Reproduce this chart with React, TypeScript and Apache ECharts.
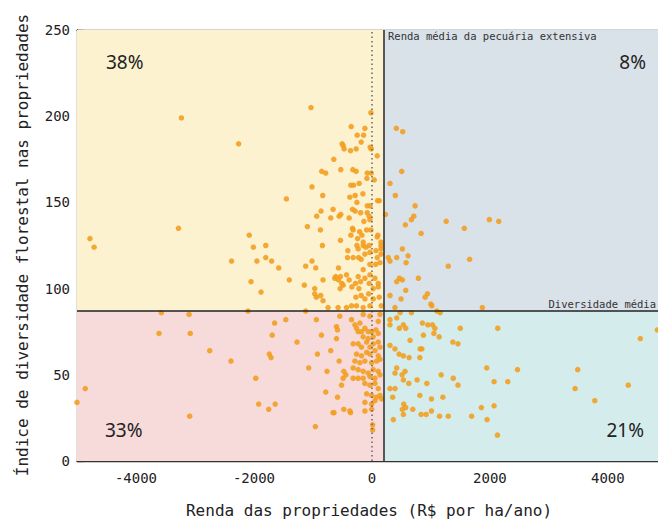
import React, { useEffect, useRef } from "react";
import * as echarts from "echarts";

// ---- data ----
const xTickValues = [-4000, -2000, 0, 2000, 4000];
const avgIncome = 200; // Renda média da pecuária extensiva
const avgDiversity = 87; // Diversidade média
const quadrantShares = ["38%", "8%", "33%", "21%"]; // NW, NE, SW, SE

// far-left sparse points [income, diversity]
const pointsLeft: number[][] = [
  [-3230, 199], [-2260, 184], [-1450, 152], [-3280, 135], [-4780, 129], [-4710, 124],
  [-2080, 131], [-2010, 124], [-1800, 125], [-2380, 116], [-1950, 116], [-1800, 118],
  [-1700, 116], [-1580, 112], [-1400, 105], [-2050, 104], [-1880, 98],
  [-3570, 86], [-3100, 85], [-2100, 87], [-3610, 74], [-3080, 74], [-1650, 80],
  [-1460, 82], [-1690, 73], [-1270, 69], [-2750, 64], [-2390, 58], [-1740, 62],
  [-1710, 60], [-1970, 48], [-4860, 42], [-5000, 34], [-1920, 33], [-1750, 30],
  [-1640, 33], [-3090, 26],
];

// right side, above average diversity
const pointsRightUpper: number[][] = [
  [414, 193], [522, 191], [505, 168], [306, 161], [397, 154], [732, 148], [710, 142],
  [669, 140], [567, 137], [834, 132], [1259, 139], [1566, 135], [1991, 140], [2150, 139],
  [516, 123], [613, 119], [579, 115], [306, 116], [1294, 113], [1656, 117], [788, 106],
  [465, 106], [420, 104], [516, 105], [573, 99], [941, 97], [902, 95], [306, 96], [494, 94],
  [391, 89], [999, 91], [1016, 90], [1872, 89], [278, 118], [420, 118],
];

// right side, below average diversity
const pointsRightLower: number[][] = [
  [477, 86], [669, 86], [1101, 87], [1157, 86], [306, 82], [420, 83],
  [306, 79], [465, 77], [533, 79], [573, 77], [856, 80], [948, 79], [1026, 79], [1067, 77],
  [873, 73], [1050, 74], [1140, 72], [1498, 77], [2133, 77], [647, 70], [1373, 69],
  [1459, 68], [4550, 71], [306, 67], [391, 65], [817, 65], [846, 65], [460, 62], [533, 61],
  [630, 60], [812, 60], [420, 54], [391, 51], [562, 52], [511, 50], [1174, 50], [1946, 54],
  [2468, 53], [3489, 53], [533, 47], [625, 45], [766, 47], [931, 45], [1379, 48], [1459, 44],
  [2071, 46], [2303, 46], [3444, 42], [4346, 44], [306, 42], [391, 42], [352, 37], [812, 38],
  [1009, 36], [1203, 37], [539, 33], [573, 31], [516, 30], [533, 27], [693, 30], [834, 27],
  [919, 27], [1009, 29], [1146, 26], [1294, 26], [1855, 31], [2071, 32], [1690, 26],
  [1952, 24], [3778, 35], [363, 24], [2128, 15], [4840, 76],
];

// dense centre, upper half
const pointsCentreUpper: number[][] = [
  [-1033, 205], [-17, 202], [-352, 194], [-119, 193], [-141, 189], [-250, 189], [-182, 185],
  [-505, 184], [-488, 183], [-471, 181], [-363, 180], [-267, 181], [-29, 182], [-12, 181],
  [90, 177], [-647, 175], [-851, 168], [-783, 167], [-528, 169], [-323, 169], [-267, 168],
  [-80, 167], [-12, 167], [39, 163], [-1016, 159], [-357, 160], [-311, 160], [-216, 161],
  [-85, 164], [-834, 154], [-374, 153], [-284, 154], [-153, 155], [97, 151], [124, 151],
  [-255, 150], [-863, 145], [-659, 146], [-329, 146], [-284, 145], [-192, 144], [-80, 148],
  [-34, 148], [-936, 142], [-698, 141], [-556, 142], [-528, 143], [-386, 141], [-80, 144],
  [-46, 142], [-34, 140], [230, 143], [-1094, 136], [-136, 139], [-873, 134], [-329, 135],
  [-318, 134], [-209, 133], [-90, 134], [-17, 134], [102, 131], [90, 130], [-357, 131],
  [-533, 128], [-839, 125], [-243, 129], [-170, 131], [-148, 127], [-102, 124], [-255, 125],
  [153, 127], [153, 125], [153, 123], [153, 120],
  [-1123, 113], [-1016, 116], [-953, 112], [-1146, 102], [-970, 100], [-970, 97], [-942, 95],
  [-829, 105], [-613, 107], [-630, 106], [-567, 112], [-533, 107], [-567, 105], [-488, 102],
  [-539, 100], [-511, 103], [-431, 108], [-386, 105], [-340, 101], [-278, 103], [-233, 107],
  [-221, 100], [-192, 104], [-408, 122], [-414, 118], [-318, 118], [-226, 118], [-182, 117],
  [-119, 120], [-233, 123], [-148, 125], [-46, 125], [-34, 121], [68, 122], [90, 118],
  [136, 115], [63, 114], [-34, 114], [-148, 111], [-34, 108], [-119, 106], [-46, 103],
  [51, 106], [107, 103], [107, 101], [22, 100], [-56, 97], [-272, 95], [-182, 96], [-119, 94],
  [22, 94], [124, 95], [158, 90], [-346, 90], [-261, 90], [-148, 89], [-34, 90], [-744, 89],
  [-574, 89], [-431, 89], [-829, 93], [-868, 96], [-1123, 87],
];

// dense centre, lower half
const pointsCentreLower: number[][] = [
  [-942, 82], [-545, 84], [-346, 82], [-289, 79], [-204, 80], [-148, 85], [-34, 84], [107, 81],
  [136, 85], [-856, 73], [-601, 78], [-584, 76], [-601, 71], [-924, 62], [-698, 64],
  [-1072, 54], [-761, 52], [-783, 40], [-659, 28], [-642, 28], [-556, 58], [-477, 52],
  [-442, 50], [-488, 48], [-516, 44], [-584, 37], [-477, 30], [-374, 29], [-363, 28], [-959, 20],
  [-261, 77], [-233, 75], [-176, 75], [-119, 77], [-63, 75], [-5, 75], [68, 76], [107, 74],
  [-148, 72], [-63, 71], [22, 72],
  [-318, 68], [-233, 68], [-176, 66], [-90, 69], [-34, 66], [22, 68], [107, 69], [136, 66],
  [-261, 62], [-176, 61], [-90, 63], [-34, 62], [51, 64], [107, 61], [-289, 58], [-204, 57],
  [-119, 58], [-5, 57], [80, 58], [136, 59],
  [-318, 54], [-233, 53], [-148, 52], [-63, 51], [22, 53], [107, 52], [-233, 48], [-148, 48],
  [-34, 49], [51, 48], [136, 50], [-318, 48],
  [-119, 45], [-34, 44], [51, 45], [107, 42], [-90, 39], [-5, 38], [80, 37], [136, 38],
  [-119, 34], [-5, 33], [51, 35], [165, 36], [-119, 29], [-5, 30], [12, 21], [12, 18],
];

const X_MIN = -5000;
const X_MAX = 4850;
const Y_MAX = 250;

const MONO = "DejaVu Sans Mono";
const SANS = "Noto Sans";

export default function App() {
  const ref = useRef<HTMLDivElement>(null);

  useEffect(() => {
    if (!ref.current) return;
    const chart = echarts.init(ref.current, undefined, { renderer: "svg" });
    const allPoints = [
      ...pointsLeft,
      ...pointsRightUpper,
      ...pointsRightLower,
      ...pointsCentreUpper,
      ...pointsCentreLower,
    ];
    const axisColor = "#333";
    const option: any = {
      animation: false,
      backgroundColor: "#ffffff",
      grid: { left: 77, right: 0, top: 30, bottom: 61, containLabel: false },
      xAxis: [
        {
          type: "value",
          min: X_MIN,
          max: X_MAX,
          interval: 500,
          position: "bottom",
          axisLine: { show: true, onZero: false, lineStyle: { color: axisColor, width: 1.3 } },
          axisTick: { show: true, inside: true, length: 7, customValues: xTickValues, lineStyle: { color: axisColor, width: 1.3 } },
          axisLabel: {
            show: true,
            customValues: xTickValues,
            formatter: (v: number) => String(v),
            fontFamily: MONO,
            fontSize: 14,
            color: "#222",
            margin: 10,
          },
          splitLine: { show: false },
        },
        {
          type: "value",
          min: X_MIN,
          max: X_MAX,
          interval: 500,
          position: "bottom",
          axisLine: { show: false },
          axisTick: { show: true, inside: true, length: 3.5, lineStyle: { color: axisColor, width: 1 } },
          axisLabel: { show: false },
          splitLine: { show: false },
        },
        {
          type: "value",
          min: X_MIN,
          max: X_MAX,
          position: "top",
          axisLine: { show: true, onZero: false, lineStyle: { color: "#555", width: 1.3 } },
          axisTick: { show: false },
          axisLabel: { show: false },
          splitLine: { show: false },
        },
      ],
      yAxis: {
        type: "value",
        min: 0,
        max: Y_MAX,
        interval: 50,
        axisLine: { show: true, onZero: false, lineStyle: { color: axisColor, width: 1.3 } },
        axisTick: { show: true, inside: true, length: 6.5, lineStyle: { color: axisColor, width: 1.3 } },
        minorTick: { show: true, splitNumber: 5, length: 4, lineStyle: { color: axisColor, width: 1 } },
        axisLabel: { fontFamily: MONO, fontSize: 14, color: "#222", margin: 7 },
        splitLine: { show: false },
      },
      series: [
        {
          type: "line",
          data: [],
          silent: true,
          z: 1,
          markArea: {
            silent: true,
            data: [
              [{ coord: [X_MIN, avgDiversity], itemStyle: { color: "#fcf2d0" } }, { coord: [avgIncome, Y_MAX] }],
              [{ coord: [avgIncome, avgDiversity], itemStyle: { color: "#d9e1e9" } }, { coord: [X_MAX, Y_MAX] }],
              [{ coord: [X_MIN, 0], itemStyle: { color: "#f7dada" } }, { coord: [avgIncome, avgDiversity] }],
              [{ coord: [avgIncome, 0], itemStyle: { color: "#d4ecec" } }, { coord: [X_MAX, avgDiversity] }],
            ],
          },
        },
        {
          type: "scatter",
          data: allPoints,
          symbolSize: 5.5,
          z: 3,
          itemStyle: { color: "#f29d1c", opacity: 0.88 },
          silent: true,
        },
        {
          type: "line",
          data: [],
          silent: true,
          z: 4,
          markLine: {
            silent: true,
            symbol: "none",
            label: { show: false },
            data: [
              { xAxis: 0, lineStyle: { color: "#666", type: [1.5, 3], width: 1.5 } },
              { xAxis: avgIncome, lineStyle: { color: "#333", type: "solid", width: 1.6 } },
              { yAxis: avgDiversity, lineStyle: { color: "#222", type: "solid", width: 1.6 } },
            ],
          },
        },
      ],
      graphic: [
        {
          type: "text",
          x: 22,
          y: 245,
          rotation: Math.PI / 2,
          style: {
            text: "Índice de diversidade florestal nas propriedades",
            fontFamily: MONO,
            fontSize: 16,
            fill: "#222",
            align: "center",
            verticalAlign: "middle",
          },
        },
        {
          type: "text",
          x: 369,
          y: 510,
          style: {
            text: "Renda das propriedades (R$ por ha/ano)",
            fontFamily: MONO,
            fontSize: 16,
            fill: "#222",
            align: "center",
            verticalAlign: "middle",
          },
        },
        {
          type: "text",
          x: 388,
          y: 36,
          z: 10,
          style: { text: "Renda média da pecuária extensiva", fontFamily: MONO, fontSize: 10.5, fill: "#333", align: "left", verticalAlign: "middle" },
        },
        {
          type: "text",
          x: 656,
          y: 304,
          z: 10,
          style: { text: "Diversidade média", fontFamily: MONO, fontSize: 10.5, fill: "#333", align: "right", verticalAlign: "middle" },
        },
        {
          type: "text", x: 106, y: 62, z: 10,
          style: { text: quadrantShares[0], fontFamily: SANS, fontSize: 19, fill: "#222", align: "left", verticalAlign: "middle" },
        },
        {
          type: "text", x: 646, y: 62, z: 10,
          style: { text: quadrantShares[1], fontFamily: SANS, fontSize: 19, fill: "#222", align: "right", verticalAlign: "middle" },
        },
        {
          type: "text", x: 105, y: 430, z: 10,
          style: { text: quadrantShares[2], fontFamily: SANS, fontSize: 19, fill: "#222", align: "left", verticalAlign: "middle" },
        },
        {
          type: "text", x: 644, y: 430, z: 10,
          style: { text: quadrantShares[3], fontFamily: SANS, fontSize: 19, fill: "#222", align: "right", verticalAlign: "middle" },
        },
      ],
    };
    chart.setOption(option);
    return () => chart.dispose();
  }, []);

  return (
    <div
      ref={ref}
      style={{ position: "fixed", left: 0, top: 0, width: 658, height: 522, background: "#fff" }}
    />
  );
}
